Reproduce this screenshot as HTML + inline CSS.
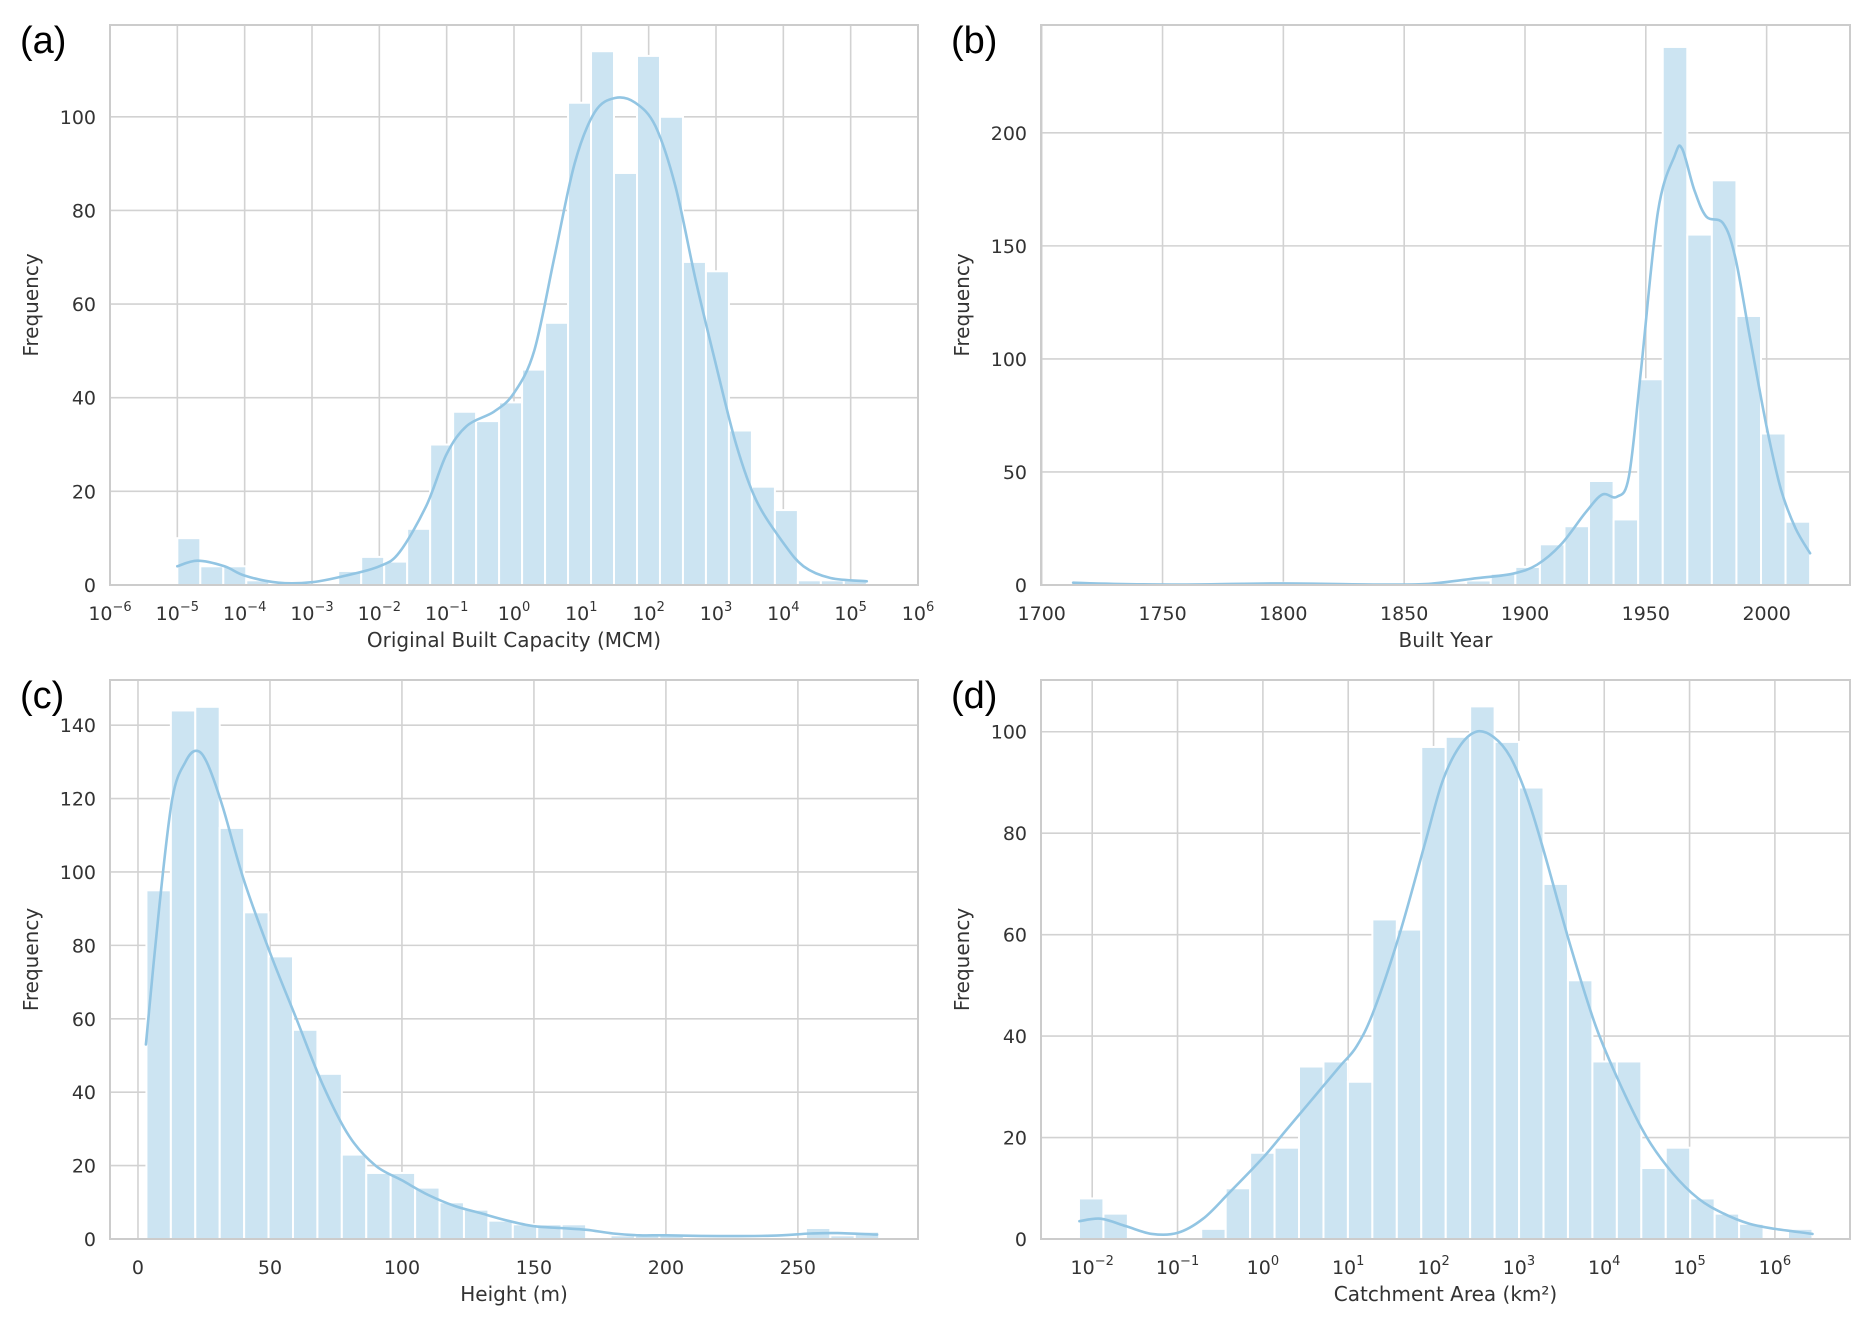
<!DOCTYPE html>
<html><head><meta charset="utf-8">
<style>
html,body{margin:0;padding:0;background:#fff;}
svg{display:block;font-family:"DejaVu Sans","Liberation Sans",sans-serif;}
</style></head>
<body>
<svg id="fig" width="1871" height="1332" viewBox="0 0 1871 1332" xmlns="http://www.w3.org/2000/svg"></svg>
<script>
// ---- Panel (a): Original Built Capacity (log10 MCM)
const aCounts = [10,4,4,1,0,0,0,3,6,5,12,30,37,35,39,46,56,103,114,88,113,100,69,67,33,21,16,1,1,1];
const aBinMin = -5, aBinMax = 5.24;
const aKdeX = [-5,-4.7,-4.3,-4,-3.5,-3,-2.5,-2,-1.7,-1.3,-1,-0.7,-0.3,0,0.3,0.6,0.9,1.2,1.5,1.8,2.1,2.4,2.7,3.0,3.3,3.6,4.0,4.3,4.7,5.24];
const aKdeY = [4,5.2,4,2,0.5,0.6,2,4,7,17,28,34,37,41,50,70,90,101,104,103,98,85,65,47,30,18,9,4,1.5,0.8];
const aXTicks = [-6,-5,-4,-3,-2,-1,0,1,2,3,4,5,6];
const aYTicks = [0,20,40,60,80,100];

// ---- Panel (b): Built Year
const bCounts = [1,0,0,0,0,0,0,0,1,0,0,0,0,0,0,1,2,5,8,18,26,46,29,91,238,155,179,119,67,28];
const bBinMin = 1713, bBinMax = 2018;
const bKdeX = [1713,1730,1760,1800,1840,1860,1880,1895,1905,1915,1925,1932,1938,1943,1948,1955,1962,1965,1970,1975,1982,1987,1993,2000,2006,2012,2018];
const bKdeY = [1,0.5,0.2,0.7,0.2,0.5,3,5,9,18,32,40,39,48,95,165,190,193,175,163,160,145,110,70,42,25,14];
const bXTicks = [1700,1750,1800,1850,1900,1950,2000];
const bYTicks = [0,50,100,150,200];

// ---- Panel (c): Height (m)
const cCounts = [95,144,145,112,89,77,57,45,23,18,18,14,10,8,5,4,4,4,0,1,1,1,0,0,0,0,0,3,1,2];
const cBinMin = 3.2, cBinMax = 280.8;
const cKdeX = [3,8,13,18,22,26,32,40,50,60,70,80,90,100,110,120,130,140,150,160,170,180,190,200,220,240,255,265,280];
const cKdeY = [53,90,120,130,133,130,118,98,78,60,42,28,20,16,12,9,7,5,3.5,3,2.5,1.5,1,1,0.8,0.9,1.5,1.6,1.2];
const cXTicks = [0,50,100,150,200,250];
const cYTicks = [0,20,40,60,80,100,120,140];

// ---- Panel (d): Catchment Area (log10 km2)
const dCounts = [8,5,0,0,0,2,10,17,18,34,35,31,63,61,97,99,105,98,89,70,51,35,35,14,18,8,5,3,0,2];
const dBinMin = -2.155, dBinMax = 6.44;
const dKdeX = [-2.15,-1.9,-1.6,-1.3,-1.0,-0.7,-0.4,0,0.3,0.6,0.9,1.1,1.3,1.6,1.9,2.1,2.3,2.5,2.7,2.9,3.1,3.3,3.6,3.9,4.2,4.5,4.8,5.1,5.4,5.7,6,6.44];
const dKdeY = [3.5,4,2.5,1,1.2,4,9,16,22,28,34,38,45,60,78,90,97,100,99,95,87,76,58,42,30,20,13,8,5,3,2,1];
const dXTicks = [-2,-1,0,1,2,3,4,5,6];
const dYTicks = [0,20,40,60,80,100];

const NS = "http://www.w3.org/2000/svg";
const svg = document.getElementById('fig');
function mk(tag, attrs, parent){
  const e = document.createElementNS(NS, tag);
  for (const k in attrs) e.setAttribute(k, attrs[k]);
  (parent||svg).appendChild(e);
  return e;
}
function smoothPath(P){
  let d = 'M' + P[0][0].toFixed(1) + ',' + P[0][1].toFixed(1);
  for (let i = 0; i < P.length - 1; i++) {
    const p0 = P[Math.max(0, i-1)], p1 = P[i], p2 = P[i+1], p3 = P[Math.min(P.length-1, i+2)];
    const c1x = p1[0] + (p2[0]-p0[0])/6, c1y = p1[1] + (p2[1]-p0[1])/6;
    const c2x = p2[0] - (p3[0]-p1[0])/6, c2y = p2[1] - (p3[1]-p1[1])/6;
    d += ' C' + c1x.toFixed(1) + ',' + c1y.toFixed(1) + ' ' + c2x.toFixed(1) + ',' + c2y.toFixed(1) + ' ' + p2[0].toFixed(1) + ',' + p2[1].toFixed(1);
  }
  return d;
}

function panel(cfg){
  const g = mk('g', {});
  
  
  const L=cfg.x0, R=cfg.x1, T=cfg.y0, B=cfg.y1;
  const sx = v => L + (v - cfg.xmin) / (cfg.xmax - cfg.xmin) * (R - L);
  const sy = v => B - v / cfg.ymax * (B - T);
  cfg.xticks.forEach(t => {
    const ln = mk('line', {x1:sx(t), x2:sx(t), y1:T, y2:B, stroke:'#d2d2d2', 'stroke-width':1.6}, g);
    
    
  });
  cfg.yticks.forEach(t => {
    const ln = mk('line', {x1:L, x2:R, y1:sy(t), y2:sy(t), stroke:'#d2d2d2', 'stroke-width':1.6}, g);
    
    
  });
  const n = cfg.counts.length, w = (cfg.binMax - cfg.binMin) / n;
  cfg.counts.forEach((c, i) => {
    if (c <= 0) return;
    const x0 = sx(cfg.binMin + i*w), x1 = sx(cfg.binMin + (i+1)*w);
    const r = mk('rect', {x:x0, y:sy(c), width:x1-x0, height:B-sy(c), fill:'#cce4f2', stroke:'#ffffff', 'stroke-width':2}, g);
    
    
  });
  const P = cfg.kx.map((x, i) => [sx(x), sy(cfg.ky[i])]);
  const pl = mk('path', {d:smoothPath(P), fill:'none', stroke:'#92c5e3', 'stroke-width':2.6, 'stroke-linejoin':'round', 'stroke-linecap':'round'}, g);
  
  
  const fr = mk('rect', {x:L, y:T, width:R-L, height:B-T, fill:'none', stroke:'#cccccc', 'stroke-width':2}, g);
  
  
  cfg.yticks.forEach(t => {
    const tx = mk('text', {x:L-14, y:sy(t)+7, 'text-anchor':'end', 'font-size':19, fill:'#333'}, g);
    tx.textContent = t;
    
    
  });
  cfg.xticks.forEach(t => {
    const tx = mk('text', {x:sx(t), y:B+35, 'text-anchor':'middle', 'font-size':19, fill:'#333'}, g);
    if (cfg.log) {
      const a = document.createElementNS(NS, 'tspan'); a.textContent = '10'; tx.appendChild(a);
      const b = document.createElementNS(NS, 'tspan');
      b.setAttribute('dy', -9); b.setAttribute('font-size', 13);
      b.textContent = (t < 0 ? '\u2212' + (-t) : String(t));
      tx.appendChild(b);
    } else tx.textContent = t;
    
    
  });
  const xt = mk('text', {x:(L+R)/2, y:B+62, 'text-anchor':'middle', 'font-size':20, fill:'#333'}, g);
  xt.textContent = cfg.xtitle;
  
  
  const yt = mk('text', {x:0, y:0, 'text-anchor':'middle', 'font-size':20, fill:'#333', transform:'translate(' + (L-72) + ',' + ((T+B)/2) + ') rotate(-90)'}, g);
  yt.textContent = 'Frequency';
  
  
  const pl2 = mk('text', {x:L-90, y:T+28, 'font-size':38, fill:'#000', 'font-family':'"Liberation Sans",sans-serif'}, g);
  pl2.textContent = '(' + cfg.id + ')';
  
  
}

panel({id:'a', x0:110, x1:918, y0:25, y1:585, xmin:-6, xmax:6, ymax:119.6, log:true,
  counts:aCounts, binMin:aBinMin, binMax:aBinMax, kx:aKdeX, ky:aKdeY, xticks:aXTicks, yticks:aYTicks,
  xtitle:'Original Built Capacity (MCM)'});
panel({id:'b', x0:1041, x1:1850, y0:25, y1:585, xmin:1699.7, xmax:2034.5, ymax:247.7, log:false,
  counts:bCounts, binMin:bBinMin, binMax:bBinMax, kx:bKdeX, ky:bKdeY, xticks:bXTicks, yticks:bYTicks,
  xtitle:'Built Year'});
panel({id:'c', x0:110, x1:918, y0:680, y1:1239, xmin:-10.6, xmax:295.5, ymax:152.3, log:false,
  counts:cCounts, binMin:cBinMin, binMax:cBinMax, kx:cKdeX, ky:cKdeY, xticks:cXTicks, yticks:cYTicks,
  xtitle:'Height (m)'});
panel({id:'d', x0:1041, x1:1850, y0:680, y1:1239, xmin:-2.6, xmax:6.88, ymax:110.2, log:true,
  counts:dCounts, binMin:dBinMin, binMax:dBinMax, kx:dKdeX, ky:dKdeY, xticks:dXTicks, yticks:dYTicks,
  xtitle:'Catchment Area (km\u00b2)'});
</script>
</body></html>
